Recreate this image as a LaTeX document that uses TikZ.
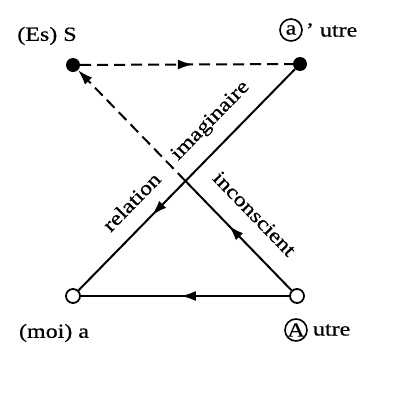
\documentclass[tikz,border=0pt]{standalone}
\usepackage{fontspec}
\setmainfont[FakeStretch=1.2, FakeBold=0.6]{Liberation Serif}
\usetikzlibrary{arrows.meta,decorations.markings}

\begin{document}
\begin{tikzpicture}[
    x=1pt, y=-1pt,
    font=\fontsize{20}{24}\selectfont,
    >={Latex[length=15pt,width=10pt]},
    dot/.style={circle, fill, inner sep=0pt, minimum size=14pt},
    hollow/.style={circle, draw, fill=white, inner sep=0pt, minimum size=14pt, line width=1.8pt},
    link/.style={line width=2pt},
    dashlink/.style={link, dash pattern=on 11pt off 6pt},
    midarrow/.style={
        postaction={decorate},
        decoration={markings, mark=at position #1 with {\arrow[solid]{>}}}
    },
    ringed/.style={circle, draw, line width=1.6pt, inner sep=0pt, minimum size=22pt},
    tag/.style={inner sep=1pt},
    slant/.style={sloped, above=#1, inner sep=0pt}
]
\useasboundingbox (0,0) rectangle (400,410);

% Corners of the schema
\node[dot] (S) at (73,65) {};
\node[dot] (Ap) at (300,64) {};
\node[hollow] (moi) at (73,296) {};
\node[hollow] (Aut) at (297,296) {};
\coordinate (X) at (intersection of S--Aut and Ap--moi);

% Labels of the corners
\node[tag] (Slab) at (47,36) {(Es) S};
\node[ringed] (ca) at (291,30) {a};
\node[tag, anchor=west] (Aplab) at ([xshift=2pt]ca.east) {' utre};
\node[tag] (moilab) at (54,333) {(moi) a};
\node[ringed] (cA) at (296,330) {A};
\node[tag, anchor=west] (Autlab) at ([xshift=4pt]cA.east) {utre};

% Connections
\draw[dashlink, midarrow=0.53] (S) -- (Ap);
\draw[dashlink, ->] (X) -- (S);
\draw[link, midarrow=0.59] (Aut) --
    node[pos=0.53, slant=19pt] {inconscient} (X);
\draw[link, midarrow=0.66] (Ap) --
    node[pos=0.31, slant=14pt] {imaginaire}
    node[pos=0.676, slant=16pt] {relation} (moi);
\draw[link, midarrow=0.52] (Aut) -- (moi);

\end{tikzpicture}
\end{document}
